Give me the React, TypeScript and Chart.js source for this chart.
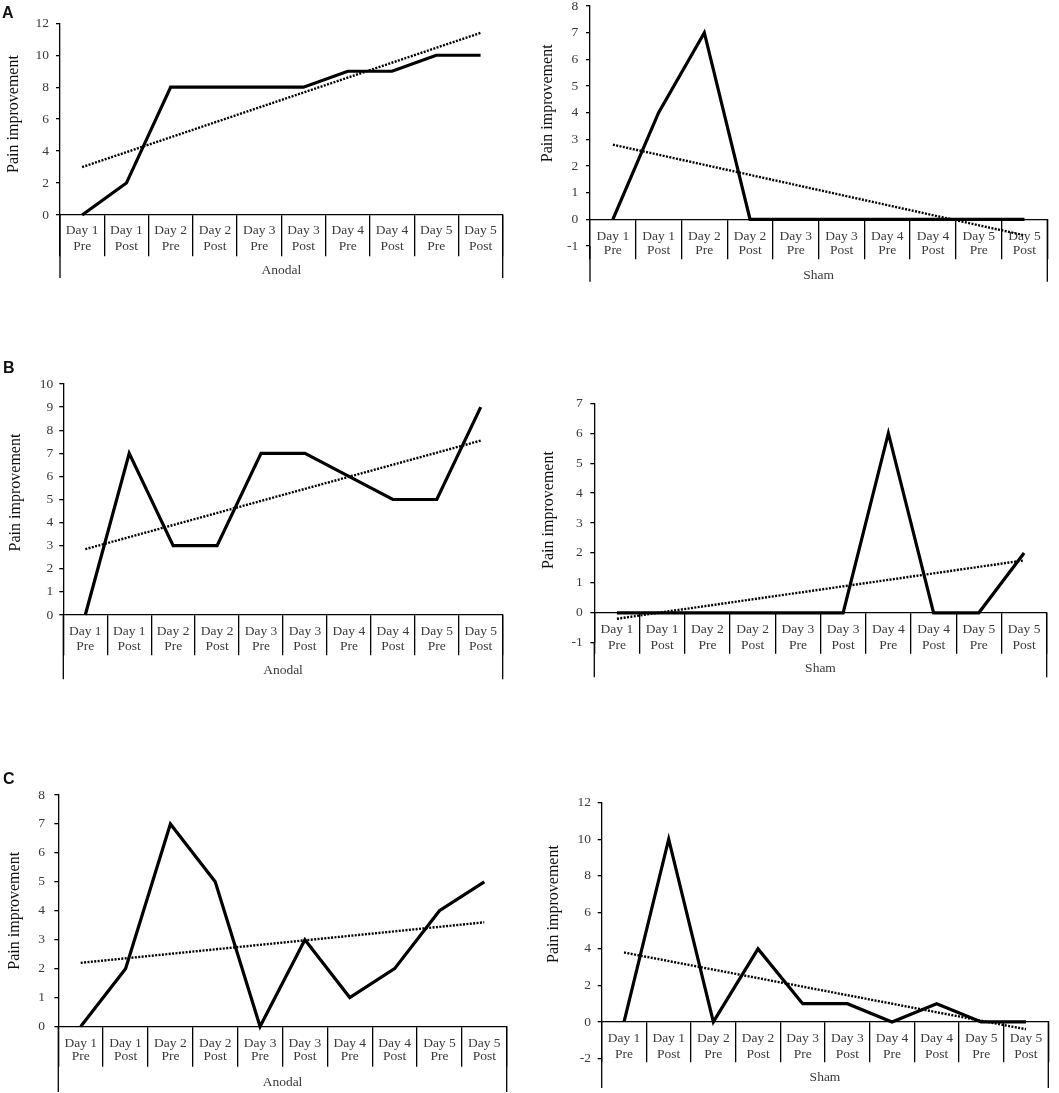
import { useEffect, useRef } from "react";
import Chart, { ChartConfiguration, Plugin } from "chart.js/auto";

// x categories (two-line tick labels)
const categories = [
  ["Day 1", "Pre"],
  ["Day 1", "Post"],
  ["Day 2", "Pre"],
  ["Day 2", "Post"],
  ["Day 3", "Pre"],
  ["Day 3", "Post"],
  ["Day 4", "Pre"],
  ["Day 4", "Post"],
  ["Day 5", "Pre"],
  ["Day 5", "Post"],
];

// pain improvement per session
const anodalA = [0, 2, 8, 8, 8, 8, 9, 9, 10, 10];
const shamA = [0, 4, 7, 0, 0, 0, 0, 0, 0, 0];
const anodalB = [0, 7, 3, 3, 7, 7, 6, 5, 5, 9];
const shamB = [0, 0, 0, 0, 0, 0, 6, 0, 0, 2];
const anodalC = [0, 2, 7, 5, 0, 3, 1, 2, 4, 5];
const shamC = [0, 10, 0, 4, 1, 1, 0, 1, 0, 0];

// dotted trend line, value at first and last category
const trendAnodalA = [3.0, 11.4];
const trendShamA = [2.8, -0.6];
const trendAnodalB = [2.85, 7.55];
const trendShamB = [-0.2, 1.75];
const trendAnodalC = [2.2, 3.6];
const trendShamC = [3.8, -0.4];

const groupAnodal = "Anodal";
const groupSham = "Sham";
const yTitle = "Pain improvement";

const SERIF = "'Liberation Serif', 'Times New Roman', serif";
const TEXT = "#3a3a3a";

type Panel = {
  values: number[];
  trend: number[];
  group: string;
  yMin: number;
  yMax: number;
  yStep: number;
  box: { x: number; y: number; w: number; h: number };
  area: { l: number; r: number; t: number; b: number };
  sepBottom: number;
  bracketBottom: number;
  groupY: number;
  titleX: number;
  titleY: number;
  line1Y: number;
  lineH: number;
  tickRight: number;
};

const panels: Panel[] = [
  {
    values: anodalA, trend: trendAnodalA, group: groupAnodal,
    yMin: 0, yMax: 12, yStep: 2,
    box: { x: 0, y: -10, w: 530, h: 320 },
    area: { l: 60, r: 502.7, t: 23.3, b: 215 },
    sepBottom: 256, bracketBottom: 278, groupY: 270.7,
    titleX: 14, titleY: 114, line1Y: 230.7, lineH: 16, tickRight: 49,
  },
  {
    values: shamA, trend: trendShamA, group: groupSham,
    yMin: -1, yMax: 8, yStep: 1,
    box: { x: 530, y: -10, w: 529, h: 320 },
    area: { l: 590, r: 1047.3, t: 6, b: 246 },
    sepBottom: 258.3, bracketBottom: 281.7, groupY: 275.3,
    titleX: 547.3, titleY: 103.3, line1Y: 236, lineH: 14, tickRight: 578.3,
  },
  {
    values: anodalB, trend: trendAnodalB, group: groupAnodal,
    yMin: 0, yMax: 10, yStep: 1,
    box: { x: 0, y: 340, w: 530, h: 360 },
    area: { l: 63.3, r: 502.7, t: 384, b: 615 },
    sepBottom: 655, bracketBottom: 679.3, groupY: 670.7,
    titleX: 15.7, titleY: 492.5, line1Y: 631.7, lineH: 14.3, tickRight: 53.3,
  },
  {
    values: shamB, trend: trendShamB, group: groupSham,
    yMin: -1, yMax: 7, yStep: 1,
    box: { x: 530, y: 340, w: 529, h: 360 },
    area: { l: 594.3, r: 1046.7, t: 403.3, b: 642.7 },
    sepBottom: 653.3, bracketBottom: 677.3, groupY: 668.7,
    titleX: 548.3, titleY: 510, line1Y: 629.3, lineH: 15.7, tickRight: 582.7,
  },
  {
    values: anodalC, trend: trendAnodalC, group: groupAnodal,
    yMin: 0, yMax: 8, yStep: 1,
    box: { x: 0, y: 740, w: 530, h: 353 },
    area: { l: 58.3, r: 506.7, t: 795, b: 1026.5 },
    sepBottom: 1066, bracketBottom: 1092, groupY: 1082,
    titleX: 15, titleY: 910.8, line1Y: 1043.3, lineH: 13.4, tickRight: 45,
  },
  {
    values: shamC, trend: trendShamC, group: groupSham,
    yMin: -2, yMax: 12, yStep: 2,
    box: { x: 530, y: 740, w: 529, h: 353 },
    area: { l: 601.7, r: 1048.3, t: 802.7, b: 1058.5 },
    sepBottom: 1062, bracketBottom: 1088, groupY: 1077.8,
    titleX: 554, titleY: 904, line1Y: 1038.3, lineH: 15.7, tickRight: 591,
  },
];

const letters = [
  { text: "A", x: 2, y: 5 },
  { text: "B", x: 3, y: 360 },
  { text: "C", x: 3, y: 771 },
];

// bracket under the category labels, group name and y title
const bracketPlugin: Plugin<"line"> = {
  id: "bracket",
  afterDraw(chart, _args, opts: any) {
    const { ctx, chartArea } = chart;
    const zero = chart.scales.y.getPixelForValue(0);
    ctx.save();
    ctx.strokeStyle = "#000";
    ctx.lineWidth = 1.3;
    ctx.beginPath();
    ctx.moveTo(chartArea.left, chartArea.bottom);
    ctx.lineTo(chartArea.left, opts.bracketBottom);
    ctx.moveTo(chartArea.right, zero);
    ctx.lineTo(chartArea.right, opts.bracketBottom);
    ctx.stroke();

    ctx.fillStyle = TEXT;
    ctx.font = `13.5px ${SERIF}`;
    ctx.textAlign = "center";
    ctx.textBaseline = "middle";
    ctx.fillText(opts.group, (chartArea.left + chartArea.right) / 2, opts.groupY);

    ctx.fillStyle = "#111";
    ctx.font = `16px ${SERIF}`;
    ctx.translate(opts.titleX, opts.titleY);
    ctx.rotate(-Math.PI / 2);
    ctx.fillText(yTitle, 0, 0);
    ctx.restore();
  },
};

const PainChart = ({ p }: { p: Panel }) => {
  const chartRef = useRef<HTMLCanvasElement | null>(null);
  const chartInstanceRef = useRef<Chart | null>(null);

  useEffect(() => {
    if (chartInstanceRef.current) {
      chartInstanceRef.current.destroy();
    }
    const ctx = chartRef.current?.getContext("2d");
    if (!ctx) return;

    const { box, area } = p;
    const zero = area.b - ((0 - p.yMin) / (p.yMax - p.yMin)) * (area.b - area.t);
    const sepLen = p.sepBottom - zero;
    const xLabelPad = p.line1Y - p.lineH / 2 - zero - sepLen;
    const yAxisWidth = area.l - box.x;
    const last = categories.length - 1;
    const trendData = categories.map((_, i) =>
      i === 0 ? p.trend[0] : i === last ? p.trend[1] : null
    );

    chartInstanceRef.current = new Chart(ctx, {
      type: "line",
      data: {
        labels: categories,
        datasets: [
          {
            data: p.values,
            borderColor: "#000",
            borderWidth: 3.2,
            pointRadius: 0,
            tension: 0,
            clip: 10,
          },
          {
            data: trendData,
            borderColor: "#000",
            borderWidth: 2.4,
            borderDash: [2, 1.4],
            pointRadius: 0,
            spanGaps: true,
            clip: 10,
          },
        ],
      },
      options: {
        animation: false,
        responsive: false,
        maintainAspectRatio: false,
        layout: {
          padding: {
            left: 0,
            top: area.t - box.y,
            right: box.x + box.w - area.r,
            bottom: box.y + box.h - area.b,
          },
        },
        plugins: {
          legend: { display: false },
          tooltip: { enabled: false },
          bracket: {
            bracketBottom: p.bracketBottom - box.y,
            groupY: p.groupY - box.y,
            titleX: p.titleX - box.x,
            titleY: p.titleY - box.y,
            group: p.group,
          },
        },
        scales: {
          x: {
            type: "category",
            position: { y: 0 },
            offset: true,
            grid: {
              offset: true,
              drawOnChartArea: false,
              drawTicks: true,
              tickLength: sepLen,
              color: "#000",
              lineWidth: 1.3,
            },
            border: { color: "#000", width: 1.3 },
            ticks: {
              autoSkip: false,
              maxRotation: 0,
              minRotation: 0,
              padding: xLabelPad,
              color: TEXT,
              font: { family: SERIF, size: 13.5, lineHeight: `${p.lineH}px` },
            },
          },
          y: {
            min: p.yMin,
            max: p.yMax,
            afterFit: (scale: any) => {
              scale.width = yAxisWidth;
            },
            grid: {
              drawOnChartArea: false,
              drawTicks: true,
              tickLength: 4,
              color: "#000",
              lineWidth: 1.3,
            },
            border: { color: "#000", width: 1.3 },
            ticks: {
              stepSize: p.yStep,
              padding: area.l - 4 - p.tickRight,
              color: TEXT,
              font: { family: SERIF, size: 13.5, lineHeight: 1 },
            },
          },
        },
      },
      plugins: [bracketPlugin],
    } as ChartConfiguration<"line">);

    return () => {
      if (chartInstanceRef.current) {
        chartInstanceRef.current.destroy();
        chartInstanceRef.current = null;
      }
    };
  }, [p]);

  return (
    <canvas
      ref={chartRef}
      width={p.box.w}
      height={p.box.h}
      style={{ position: "absolute", left: p.box.x, top: p.box.y }}
    />
  );
};

const App = () => {
  return (
    <div
      style={{
        position: "absolute",
        left: 0,
        top: 0,
        width: 1059,
        height: 1093,
        background: "#fff",
        overflow: "hidden",
      }}
    >
      {panels.map((p, i) => (
        <PainChart key={i} p={p} />
      ))}
      {letters.map((l) => (
        <div
          key={l.text}
          style={{
            position: "absolute",
            left: l.x,
            top: l.y,
            font: "bold 16px 'Liberation Sans', Arial, sans-serif",
            lineHeight: "16px",
            color: "#111",
          }}
        >
          {l.text}
        </div>
      ))}
    </div>
  );
};

export default App;
